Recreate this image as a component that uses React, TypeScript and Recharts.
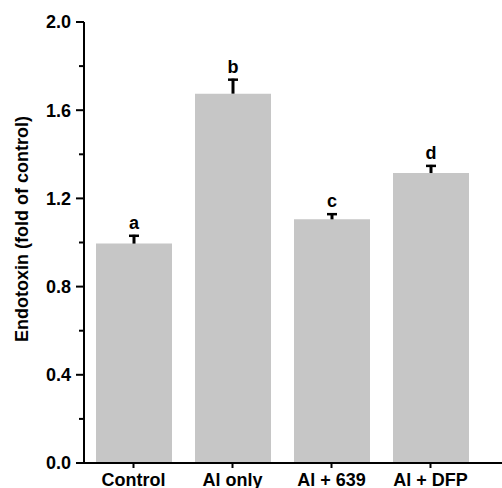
import { BarChart, Bar, XAxis, YAxis, LabelList, Label } from 'recharts';

// Endotoxin, fold of control
const groups = ['Control', 'Al only', 'Al + 639', 'Al + DFP'];
const means = [0.995, 1.675, 1.105, 1.315];
const sem = [0.04, 0.068, 0.028, 0.037];
const letters = ['a', 'b', 'c', 'd'];

const yTicks = [0, 0.2, 0.4, 0.6, 0.8, 1.0, 1.2, 1.4, 1.6, 1.8, 2.0];
const yLabelled = [0, 0.4, 0.8, 1.2, 1.6, 2.0];

const data = groups.map((g, i) => ({
  name: g,
  mean: means[i],
  letter: letters[i],
}));

const FONT = 'Liberation Sans, Arial, sans-serif';

const YTick = (props: any) => {
  const { x, y, payload } = props;
  const v = payload.value;
  const major = yLabelled.some((t) => Math.abs(t - v) < 1e-6);
  return (
    <g>
      <line x1={major ? x + 5 : x + 8} x2={x + 13} y1={y} y2={y} stroke="#000" strokeWidth={2} />
      {major && (
        <text x={x} y={y} dy="0.36em" textAnchor="end" fontSize={18} fontWeight="bold" fontFamily={FONT} fill="#000">
          {v.toFixed(1)}
        </text>
      )}
    </g>
  );
};

// upward-only error bar (T) plus significance letter, placed from the bar's own geometry
const ErrAndLetter = (props: any) => {
  const { x, y, width, height, index, value } = props;
  const pxPerUnit = height / means[index];
  const top = y - sem[index] * pxPerUnit;
  const cx = x + width / 2;
  return (
    <g>
      <line x1={cx} x2={cx} y1={y} y2={top} stroke="#000" strokeWidth={3} />
      <line x1={cx - 5} x2={cx + 5} y1={top + 1} y2={top + 1} stroke="#000" strokeWidth={2.5} />
      <text x={cx} y={top - 6} textAnchor="middle" fontSize={18} fontWeight="bold" fontFamily={FONT} fill="#000">
        {value}
      </text>
    </g>
  );
};

const YTitle = () => (
  <text
    x={22}
    y={229}
    transform="rotate(-90, 22, 229)"
    textAnchor="middle"
    dominantBaseline="central"
    fontSize={18}
    fontWeight="bold"
    fontFamily={FONT}
    fill="#000"
  >
    Endotoxin (fold of control)
  </text>
);

export default function App() {
  return (
    <div style={{ position: 'absolute', left: 0, top: 0, background: '#fff' }}>
      <BarChart
        width={502}
        height={488}
        data={data}
        margin={{ top: 22, right: 0, left: 0, bottom: 0 }}
      >
        <XAxis
          dataKey="name"
          height={25}
          padding={{ left: 0, right: 22 }}
          axisLine={{ stroke: '#000', strokeWidth: 2 }}
          tickLine={{ stroke: '#000', strokeWidth: 2 }}
          tickSize={5}
          tickMargin={5}
          tick={{ fontSize: 18, fontWeight: 'bold', fill: '#000', fontFamily: FONT }}
          interval={0}
        />
        <YAxis
          width={84}
          domain={[0, 2]}
          ticks={yTicks}
          interval={0}
          axisLine={{ stroke: '#000', strokeWidth: 2 }}
          tickLine={false}
          tickSize={8}
          tickMargin={5}
          tick={<YTick />}
        >
          <Label content={<YTitle />} />
        </YAxis>
        <Bar dataKey="mean" fill="#c6c6c6" barSize={76} isAnimationActive={false}>
          <LabelList dataKey="letter" content={<ErrAndLetter />} />
        </Bar>
      </BarChart>
    </div>
  );
}
